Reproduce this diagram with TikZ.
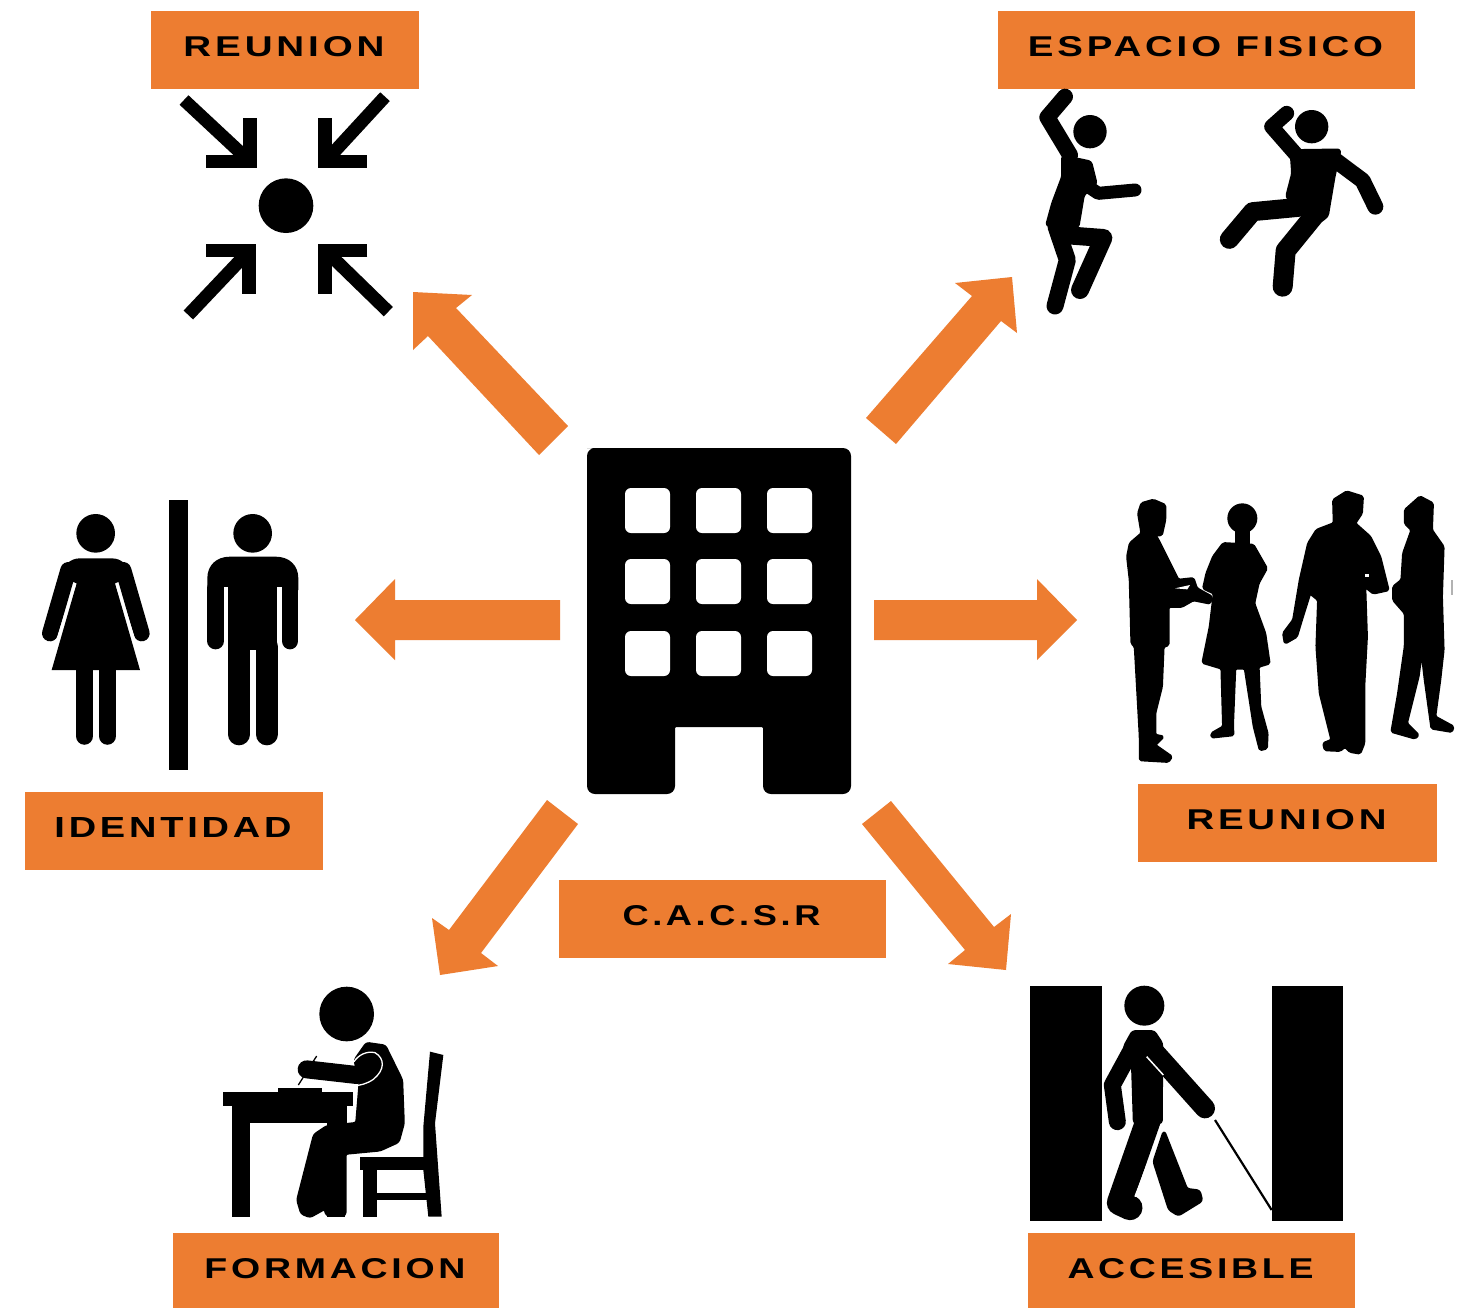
\documentclass[tikz,border=0pt]{standalone}
\usepackage{fontspec}
\usepackage{graphicx}
\setmainfont{Liberation Sans}[LetterSpace=10]
\definecolor{orangeb}{HTML}{ED7D31}
\newcommand{\lbl}[2]{\raisebox{7.5pt}{\resizebox{#1pt}{20pt}{\bfseries #2}}\hspace*{2pt}}
\tikzset{
  labbox/.style={fill=orangeb,draw=none,inner sep=0pt,text=black,anchor=center,font=\Large},
  bigarrow/.style={fill=orangeb,draw=none},
  sil/.style={fill=black,draw=black,line width=3pt,line join=round,rounded corners=2.5pt},
  limb/.style={draw=black,line cap=round,line join=round,fill=none},
  bar/.style={draw=black,line cap=butt,line join=miter,fill=none},
  px/.style={x=.33333pt,y=-.33333pt}
}
\begin{document}
\begin{tikzpicture}[x=1pt,y=-1pt]
\useasboundingbox (0,0) rectangle (1463,1307);
\fill[white] (0,0) rectangle (1463,1307);

% labels
\node[labbox,minimum width=268pt,minimum height=78pt] (reunionA) at (285,50) {\lbl{201}{REUNION}};
\node[labbox,minimum width=417pt,minimum height=78pt] (espacio) at (1206.5,50) {\lbl{355}{ESPACIO FISICO}};
\node[labbox,minimum width=298pt,minimum height=78pt] (identidad) at (174,831) {\lbl{237}{IDENTIDAD}};
\node[labbox,minimum width=299pt,minimum height=78pt] (reunionB) at (1287.5,823) {\lbl{200}{REUNION}};
\node[labbox,minimum width=327pt,minimum height=78pt] (cacsr) at (722.5,919) {\lbl{198}{C.A.C.S.R}};
\node[labbox,minimum width=326pt,minimum height=78pt] (formacion) at (336,1272) {\lbl{261}{FORMACION}};
\node[labbox,minimum width=327pt,minimum height=78pt] (accesible) at (1191.5,1272) {\lbl{246}{ACCESIBLE}};

% block arrows
\fill[bigarrow] (539,455) -- (428,336) -- (413,350) -- (413,292) -- (472,295) -- (456,308) -- (568,426) -- cycle;
\fill[bigarrow] (866,418) -- (972,296) -- (955,283) -- (1012,277) -- (1017,333) -- (1001,321) -- (896,444) -- cycle;
\fill[bigarrow] (560,600) -- (395,600) -- (395,579) -- (355,620) -- (395,660) -- (395,640) -- (560,640) -- cycle;
\fill[bigarrow] (874,600) -- (1037,600) -- (1037,579) -- (1077,620) -- (1037,660) -- (1037,640) -- (874,640) -- cycle;
\fill[bigarrow] (547,800) -- (449,930) -- (432,918) -- (440,975) -- (498,966) -- (481,953) -- (578,824) -- cycle;
\fill[bigarrow] (862,824) -- (965,950) -- (948,964) -- (1006,970) -- (1011,914) -- (994,927) -- (891,801) -- cycle;

% building
\fill[black,rounded corners=8pt] (595,448) -- (851,448) -- (851,794) -- (763,794) [rounded corners=1pt] -- (763,727) -- (675,727) [rounded corners=8pt] -- (675,794) -- (587,794) -- (587,448) -- cycle;
\foreach \wx in {625,696,767}{\foreach \wy in {488,559,631}{
  \fill[white,rounded corners=6pt] (\wx,\wy) rectangle ++(45,45);
}}

% meeting point
\begin{scope}[shift={(170,85)},px]
\fill (348,362) circle [radius=82];
\draw[bar,line width=13.3pt] (240,100) -- (240,230) -- (108,230);
\draw[bar,line width=13.3pt] (465,100) -- (465,230) -- (592,230);
\draw[bar,line width=13.3pt] (108,497) -- (237,497) -- (237,627);
\draw[bar,line width=13.3pt] (592,497) -- (465,497) -- (465,627);
\draw[bar,line width=13pt] (42,45) -- (235,225);
\draw[bar,line width=13pt] (645,35) -- (470,225);
\draw[bar,line width=13pt] (55,690) -- (235,500);
\draw[bar,line width=13pt] (655,680) -- (470,500);
\end{scope}

% dancers
\begin{scope}[shift={(1020,80)},px]
\fill (210,155) circle [radius=50];
\draw[limb,line width=16pt] (135,50) -- (82,112) -- (150,225);
\fill[sil] (128,228) -- (212,246) -- (228,310) -- (190,345) -- (174,440) -- (80,436) -- (98,370) -- (128,290) -- cycle;
\draw[limb,line width=13pt] (205,320) -- (235,340) -- (345,330);
\draw[limb,line width=17pt] (108,440) -- (142,540) -- (105,678);
\draw[limb,line width=18pt] (130,465) -- (250,474) -- (180,630);
\fill (875,140) circle [radius=50];
\draw[limb,line width=15pt] (800,100) -- (755,140) -- (825,220);
\fill[sil] (813,212) -- (960,210) -- (942,290) -- (922,408) -- (880,440) -- (850,402) -- (800,350) -- (818,280) -- cycle;
\draw[limb,line width=16pt] (945,240) -- (1028,302) -- (1066,380);
\draw[limb,line width=19pt] (835,382) -- (698,395) -- (628,478);
\draw[limb,line width=20pt] (880,410) -- (797,512) -- (788,620);
\end{scope}

% group of people
\begin{scope}[shift={(1110,480)},px,sil/.append style={rounded corners=1.5pt,line width=2.5pt}]
\fill[sil] (85,100) -- (95,70) -- (130,60) -- (165,75) -- (165,120) -- (155,165) -- (135,165) -- (145,180) -- (170,230) -- (205,300) -- (250,295) -- (260,325) -- (305,350) -- (300,370) -- (250,360) -- (215,380) -- (175,380) -- (175,495) -- (160,500) -- (155,620) -- (135,700) -- (135,765) -- (160,770) -- (135,795) -- (185,830) -- (175,845) -- (90,840) -- (90,770) -- (75,500) -- (65,490) -- (60,300) -- (52,230) -- (60,190) -- (95,160) -- cycle;
\fill[white] (195,325) -- (240,315) -- (232,328) -- cycle;
\fill (397,115) circle [radius=45];
\fill (375,150) rectangle (420,195);
\fill[sil] (340,190) -- (430,195) -- (470,265) -- (445,310) -- (432,370) -- (465,460) -- (478,550) -- (445,560) -- (450,680) -- (472,760) -- (470,805) -- (450,810) -- (432,740) -- (405,565) -- (375,565) -- (368,740) -- (370,765) -- (305,772) -- (305,760) -- (340,740) -- (335,565) -- (278,548) -- (300,440) -- (312,340) -- (280,325) -- (290,280) -- (310,230) -- cycle;
\fill[sil] (670,60) -- (710,35) -- (758,50) -- (755,100) -- (735,130) -- (780,170) -- (810,230) -- (835,330) -- (790,340) -- (765,320) -- (770,470) -- (762,620) -- (762,790) -- (750,820) -- (720,815) -- (705,800) -- (690,812) -- (645,810) -- (640,790) -- (665,780) -- (630,640) -- (620,500) -- (625,360) -- (600,340) -- (575,420) -- (560,470) -- (525,490) -- (520,460) -- (550,420) -- (570,300) -- (595,190) -- (620,150) -- (672,130) -- cycle;
\fill[white] (764,281) rectangle (776,291);
\fill[sil] (885,90) -- (930,50) -- (968,70) -- (965,150) -- (1000,200) -- (995,350) -- (1000,510) -- (990,600) -- (975,710) -- (1030,740) -- (1025,755) -- (965,745) -- (945,600) -- (935,515) -- (925,590) -- (890,730) -- (925,765) -- (915,775) -- (845,755) -- (865,640) -- (885,500) -- (885,400) -- (850,360) -- (850,320) -- (875,300) -- (880,220) -- (905,150) -- (885,130) -- cycle;
\fill[gray!60] (1022,300) rectangle (1028,345);
\end{scope}

% restroom sign
\begin{scope}[shift={(30,490)},px]
\fill (417,30) rectangle (473,840);
\fill (197,130) circle [radius=58];
\draw[limb,line width=16pt] (115,240) -- (60,430);
\draw[limb,line width=16pt] (280,240) -- (335,430);
\fill[black] (65,540) -- (140,280) -- (90,260) .. controls (100,225) and (120,205) .. (150,205) -- (245,205) .. controls (275,205) and (295,225) .. (305,260) -- (255,280) -- (330,540) -- cycle;
\draw[white,line width=2pt] (135,283) -- (80,455);
\draw[white,line width=2pt] (260,283) -- (315,455);
\draw[limb,line width=17.5pt] (163,530) -- (163,738);
\draw[limb,line width=17.5pt] (232,530) -- (232,738);
\fill (668,130) circle [radius=58];
\fill[black] (532,300) -- (532,265) .. controls (532,225) and (560,200) .. (600,200) -- (737,200) .. controls (777,200) and (805,225) .. (805,265) -- (805,300) -- cycle;
\draw[limb,line width=16.7pt] (557,295) -- (557,453);
\draw[limb,line width=16.7pt] (780,295) -- (780,453);
\fill[white] (582,290) rectangle (595,460);
\fill[white] (742,290) rectangle (755,460);
\fill[black] (595,285) rectangle (742,480);
\draw[limb,line width=22pt] (627,470) -- (627,733);
\draw[limb,line width=22pt] (710,470) -- (710,733);
\end{scope}

% student
\begin{scope}[shift={(210,980)},px]
\fill (410,102) circle [radius=82];
\fill (40,335) rectangle (430,378);
\fill (65,378) rectangle (120,710);
\fill (65,378) rectangle (410,430);
\fill (350,430) rectangle (405,710);
\fill (205,325) rectangle (335,335);
\draw[black,line width=1.3pt] (320,228) -- (265,315);
\fill[sil] (435,240) -- (470,190) -- (525,198) -- (575,300) -- (580,430) -- (565,485) -- (510,510) -- (405,520) -- (405,705) -- (350,705) -- (345,685) -- (300,710) -- (275,700) -- (263,660) -- (313,465) -- (350,440) -- (440,430) -- (450,310) -- cycle;
\draw[limb,line width=18pt] (290,268) -- (440,285);
\draw[white,line width=1.3pt] (432,245) .. controls (445,225) and (470,212) .. (495,218) .. controls (525,235) and (525,270) .. (490,298) .. controls (470,312) and (450,316) .. (430,318) -- (355,310);
\fill[black] (660,215) -- (700,225) -- (675,430) -- (695,710) -- (655,710) -- (640,570) -- (640,440) -- cycle;
\fill (450,530) rectangle (650,570);
\fill (460,570) rectangle (500,710);
\fill (500,638) rectangle (650,660);
\end{scope}

% blind walker
\begin{scope}[shift={(1020,980)},px]
\fill (30,18) rectangle (247,722);
\fill (755,18) rectangle (970,722);
\fill (373,77) circle [radius=60];
\draw[limb,line width=20pt] (385,195) -- (555,385);
\draw[limb,line width=17pt] (345,190) -- (277,315) -- (292,425);
\fill[sil] (338,155) -- (402,155) -- (425,190) -- (424,428) -- (343,428) -- (338,270) -- (313,200) -- cycle;
\draw[white,line width=1.5pt] (380,230) -- (430,285);
\draw[limb,line width=25pt] (385,420) -- (298,668) -- (330,683);
\draw[white,line width=1.5pt] (430,430) -- (345,650);
\fill[sil] (432,455) -- (500,628) -- (538,633) -- (545,662) -- (475,705) -- (448,688) -- (402,545) -- cycle;
\draw[black,line width=2.2pt] (585,420) -- (755,690);
\end{scope}
\end{tikzpicture}
\end{document}
